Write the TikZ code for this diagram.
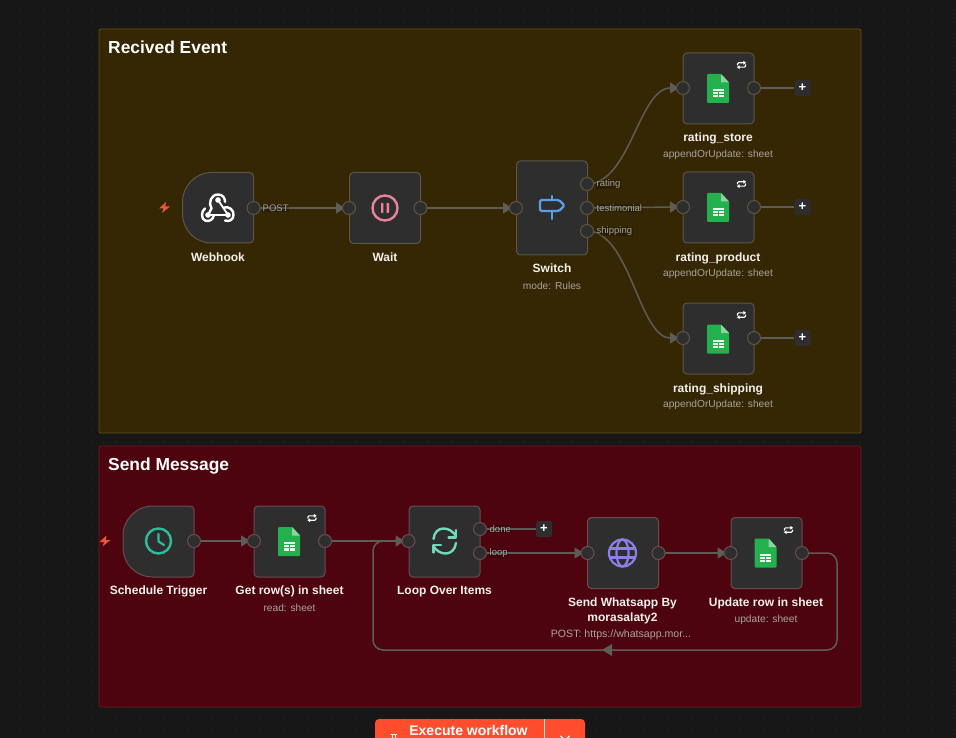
\documentclass[tikz,border=0pt]{standalone}
\usepackage{fontspec}
\setmainfont{Liberation Sans}
\usetikzlibrary{arrows.meta}
\definecolor{bgc}{HTML}{171717}
\definecolor{dotc}{HTML}{363636}
\definecolor{brownf}{HTML}{352704}
\definecolor{brownb}{HTML}{66530F}
\definecolor{redf}{HTML}{4D040E}
\definecolor{redb}{HTML}{701822}
\definecolor{boxf}{HTML}{2E2E2E}
\definecolor{boxb1}{HTML}{5C5645}
\definecolor{boxb2}{HTML}{6A4C52}
\definecolor{wirec}{HTML}{5E5C57}
\definecolor{subc}{HTML}{A8A49C}
\definecolor{namec}{HTML}{F4F1EC}
\definecolor{sheetg}{HTML}{23B14D}
\definecolor{sheetl}{HTML}{8BD3A0}
\definecolor{boltc}{HTML}{E8583C}
\definecolor{pinkc}{HTML}{E8829F}
\definecolor{bluec}{HTML}{5A9FE8}
\definecolor{tealc}{HTML}{2EBD9A}
\definecolor{mintc}{HTML}{72D8BC}
\definecolor{purplec}{HTML}{8B7FE8}
\definecolor{orangec}{HTML}{FF4D2E}
\tikzset{
  x=1pt, y=-1pt,
  frameb/.style={draw=brownb, fill=brownf, line width=.8pt, rounded corners=2pt},
  framer/.style={draw=redb, fill=redf, line width=.8pt, rounded corners=2pt},
  wfbox/.style={rectangle, draw=boxb1, fill=boxf, line width=1pt, rounded corners=4pt, minimum width=71pt, minimum height=71pt, inner sep=0pt},
  wfboxr/.style={wfbox, draw=boxb2},
  trigbox/.style={draw=boxb1, fill=boxf, line width=1pt},
  ghost/.style={rectangle, minimum width=71pt, minimum height=71pt, inner sep=0pt},
  port/.style={circle, draw=boxb1, fill=boxf, line width=1pt, minimum size=13pt, inner sep=0pt},
  portr/.style={port, draw=boxb2},
  wwire/.style={draw=wirec, line width=1.5pt},
  arrowwire/.style={wwire, shorten >=-2pt, -{Triangle[length=9pt,width=11pt,fill=wirec]}},
  wftitle/.style={text=white, font=\bfseries\fontsize{17.4}{20}\selectfont, anchor=base west, inner sep=0pt},
  wfname/.style={text=namec, font=\bfseries\fontsize{12}{15.5}\selectfont, align=center, inner sep=0pt},
  wfsub/.style={text=subc, font=\fontsize{10.2}{12}\selectfont, inner sep=0pt},
  edgelab/.style={text=subc, font=\fontsize{9.5}{11}\selectfont, anchor=west, inner sep=.5pt, fill=black, fill opacity=.22, text opacity=1},
  plusbox/.style={rectangle, rounded corners=2pt, fill=boxf, text=white, minimum size=16pt, inner sep=0pt, font=\bfseries\fontsize{13}{13}\selectfont},
  sheeticon/.pic={
    \fill[sheetg, rounded corners=1pt] (-11,-14.5) -- (3,-14.5) -- (11,-6) -- (11,14.5) -- (-11,14.5) -- cycle;
    \fill[sheetl] (3,-14.5) -- (11,-6) -- (3,-6) -- cycle;
    \fill[white!92!sheetg] (-5.5,0.5) rectangle (5.5,9);
    \draw[sheetg, line width=.55pt] (-5.5,3.2) -- (5.5,3.2) (-5.5,6) -- (5.5,6) (0,3.2) -- (0,9);
  },
  retweeticon/.pic={
    \draw[white, line width=1.1pt, rounded corners=1pt] (-4,0.5) -- (-4,-2.2) -- (2.5,-2.2);
    \draw[white, line width=1.1pt, rounded corners=1pt] (4,-0.5) -- (4,2.2) -- (-2.5,2.2);
    \fill[white] (1.8,-4.2) -- (4.6,-2.2) -- (1.8,-0.2) -- cycle;
    \fill[white] (-1.8,4.2) -- (-4.6,2.2) -- (-1.8,0.2) -- cycle;
  },
  bolticon/.pic={
    \fill[boltc] (1.5,-5.5) -- (-5.5,1) -- (-1,1) -- (-2.5,5.5) -- (5.5,-1) -- (0.8,-1) -- cycle;
  }
}
\begin{document}
\begin{tikzpicture}
\useasboundingbox (0,0) rectangle (956,738);
\clip (0,0) rectangle (956,738);
\fill[bgc] (0,0) rectangle (956,738);
\foreach \i in {0,...,79}{
  \fill[dotc] (8+12*\i,0) ++(0,-2) \foreach \j in {0,...,61}{ ++(0,12) circle[radius=.7pt] };
}
% frames
\path[frameb] (99,29) rectangle (861,433);
\path[framer] (99,446) rectangle (861,707);
\node[wftitle] (t1) at (108,54) {Recived Event};
\node[wftitle] (t2) at (108,470) {Send Message};

% trigger boxes
\path[trigbox] (212,172.5) -- (249.5,172.5) .. controls (252,172.5) and (253.5,174) .. (253.5,176.5) -- (253.5,239) .. controls (253.5,241.5) and (252,243) .. (249.5,243) -- (212,243) .. controls (195,243) and (182.5,230) .. (182.5,213) -- (182.5,202.5) .. controls (182.5,186) and (195,172.5) .. (212,172.5) -- cycle;
\node[ghost] (webhook) at (218,208) {};
\path[trigbox, draw=boxb2] (153,506) -- (190,506) .. controls (192.5,506) and (194,507.5) .. (194,510) -- (194,573) .. controls (194,575.5) and (192.5,577) .. (190,577) -- (153,577) .. controls (136,577) and (123,564) .. (123,547) -- (123,536) .. controls (123,519.5) and (136,506) .. (153,506) -- cycle;
\node[ghost] (schedule) at (158.5,541.5) {};

% boxes
\node[wfbox] (wait) at (385,208) {};
\node[wfbox, minimum height=94pt] (switch) at (552,208) {};
\node[wfbox] (store) at (718.5,88.5) {};
\node[wfbox] (product) at (718.5,207.5) {};
\node[wfbox] (shipping) at (718.5,338.5) {};
\node[wfboxr] (getrows) at (289.5,541.5) {};
\node[wfboxr] (loop) at (444.5,541.5) {};
\node[wfboxr] (whatsapp) at (623,553) {};
\node[wfboxr] (update) at (766.5,553) {};

% named anchors for ports (drawn after the connectors)
\coordinate (pwc) at (253.5,208);
\coordinate (wic) at (349,208);
\coordinate (woc) at (420.5,208);
\coordinate (sic) at (516,208);
\coordinate (s1c) at (587,184);
\coordinate (s2c) at (587,208);
\coordinate (s3c) at (587,231);
\coordinate (aic) at (683,88);
\coordinate (aoc) at (754,88);
\coordinate (bic) at (683,207);
\coordinate (boc) at (754,207);
\coordinate (cic) at (683,338);
\coordinate (coc) at (754,338);
\coordinate (troc) at (194,541);
\coordinate (gic) at (254,541);
\coordinate (goc) at (325,541);
\coordinate (lic) at (408.5,541);
\coordinate (ldc) at (480,529);
\coordinate (llc) at (480,553);
\coordinate (waic) at (587.5,553);
\coordinate (waoc) at (658.5,553);
\coordinate (uic) at (730.5,553);
\coordinate (uoc) at (802,553);

% plus
\node[plusbox] (p1) at (802.5,88) {+};
\node[plusbox] (p2) at (802.5,207) {+};
\node[plusbox] (p3) at (802.5,338) {+};
\node[plusbox] (p4) at (544,529) {+};

% connectors
\draw[arrowwire] (pwc) -- ([xshift=-6pt]wic);
\draw[arrowwire] (woc) -- ([xshift=-6pt]sic);
\draw[arrowwire] (s1c) .. controls +(43,0) and +(-38,0) .. ([xshift=-6pt]aic);
\draw[arrowwire] (s2c) -- ([xshift=-6pt]bic);
\draw[arrowwire] (s3c) .. controls +(43,0) and +(-38,0) .. ([xshift=-6pt]cic);
\draw[wwire] (aoc) -- (p1);
\draw[wwire] (boc) -- (p2);
\draw[wwire] (coc) -- (p3);
\draw[arrowwire] (troc) -- ([xshift=-6pt]gic);
\draw[arrowwire] (goc) -- ([xshift=-6pt]lic);
\draw[wwire] (ldc) -- (p4);
\draw[arrowwire] (llc) -- ([xshift=-6pt]waic);
\draw[arrowwire] (waoc) -- ([xshift=-6pt]uic);
\draw[wwire, rounded corners=10pt] (uoc) -- (837,553) -- (837,650) -- (373,650) -- (373,541) -- ([xshift=-6pt]lic);
\fill[wirec] (602,650) -- (612,644) -- (612,656) -- cycle;

% ports
\node[port] (pw) at (pwc) {};
\node[port] (wi) at (wic) {};
\node[port] (wo) at (woc) {};
\node[port] (si) at (sic) {};
\node[port] (s1) at (s1c) {};
\node[port] (s2) at (s2c) {};
\node[port] (s3) at (s3c) {};
\node[port] (ai) at (aic) {};
\node[port] (ao) at (aoc) {};
\node[port] (bi) at (bic) {};
\node[port] (bo) at (boc) {};
\node[port] (ci) at (cic) {};
\node[port] (co) at (coc) {};
\node[portr] (tro) at (troc) {};
\node[portr] (gi) at (gic) {};
\node[portr] (go) at (goc) {};
\node[portr] (li) at (lic) {};
\node[portr] (ld) at (ldc) {};
\node[portr] (ll) at (llc) {};
\node[portr] (wai) at (waic) {};
\node[portr] (wao) at (waoc) {};
\node[portr] (ui) at (uic) {};
\node[portr] (uo) at (uoc) {};

% edge labels
\node[edgelab] (lpost) at (262,208) {POST};
\node[edgelab] (lrat) at (596,184.5) {rating};
\node[edgelab] (ltes) at (596,208) {testimonial};
\node[edgelab] (lshi) at (596,231.5) {shipping};
\node[edgelab] (ldon) at (489,529) {done};
\node[edgelab] (lloo) at (489,553.5) {loop};

% labels
\node[wfname] (n1) at (218,257) {Webhook};
\node[wfname] (n2) at (385,257) {Wait};
\node[wfname] (n3) at (552,268) {Switch};
\node[wfsub] (n3s) at (552,285.5) {mode: Rules};
\node[wfname] (n4) at (718,138) {rating\_store};
\node[wfsub] (n4s) at (718,155) {appendOrUpdate: sheet};
\node[wfname] (n5) at (718,258) {rating\_product};
\node[wfsub] (n5s) at (718,273.5) {appendOrUpdate: sheet};
\node[wfname] (n6) at (718,389) {rating\_shipping};
\node[wfsub] (n6s) at (718,405) {appendOrUpdate: sheet};
\node[wfname] (n7) at (158.5,591) {Schedule Trigger};
\node[wfname] (n8) at (289.5,591) {Get row(s) in sheet};
\node[wfsub] (n8s) at (289.5,608) {read: sheet};
\node[wfname] (n9) at (444.5,591.5) {Loop Over Items};
\node[wfname] (n10) at (622.5,611) {Send Whatsapp By\\morasalaty2};
\node[wfsub, font=\fontsize{10.6}{12}\selectfont] (n10s) at (621,634.5) {POST: https://whatsapp.mor...};
\node[wfname] (n11) at (766,603) {Update row in sheet};
\node[wfsub] (n11s) at (766,620) {update: sheet};

% icons
\pic at (164.5,207.5) {bolticon};
\pic at (105,541) {bolticon};
\pic at (718,88.5) {sheeticon};
\pic at (718,207.5) {sheeticon};
\pic at (718,339) {sheeticon};
\pic at (289,541.5) {sheeticon};
\pic at (765.5,553) {sheeticon};
\pic at (741.5,65) {retweeticon};
\pic at (741.5,184) {retweeticon};
\pic at (741.5,315) {retweeticon};
\pic at (312,518) {retweeticon};
\pic at (788.5,530) {retweeticon};
% webhook icon
\begin{scope}[draw=white, line width=2.4pt, line cap=round, line join=round]
  \fill[white] (218,200) circle[radius=2.8pt] (208,215) circle[radius=2.8pt] (228,215) circle[radius=2.8pt];
  \draw[line width=1.8pt] (218,200) -- (228,215);
  \draw[line width=1.8pt] (208,215) -- (228,215);
  \draw (208,215) -- (211.5,208.5) .. controls (208,203) and (211,194.5) .. (218,194.5) .. controls (223,194.5) and (225,198) .. (225,202);
  \draw (224,207.5) .. controls (229,206) and (234,210) .. (233.5,215) .. controls (233.5,220) and (229,222) .. (225,220.5);
  \draw (205,208.5) .. controls (201,211) and (201,219) .. (205,220.5) .. controls (209,222) and (213,220) .. (214,215);
\end{scope}
% wait icon
\draw[pinkc, line width=2.4pt] (385,208) circle[radius=12.5pt];
\fill[pinkc, rounded corners=.6pt] (381,203) rectangle (383.4,213);
\fill[pinkc, rounded corners=.6pt] (386.6,203) rectangle (389,213);
% switch icon
\draw[bluec, line width=2.2pt, rounded corners=1.5pt, line cap=round] (540,200) -- (559,200) -- (564.5,205.5) -- (559,211) -- (540,211) -- cycle;
\draw[bluec, line width=2.2pt, line cap=round] (552,196) -- (552,200) (552,211) -- (552,219);
% clock icon
\draw[tealc, line width=2.4pt] (158.5,541) circle[radius=12.5pt];
\draw[tealc, line width=2.2pt, line cap=round, line join=round] (158.5,534) -- (158.5,541.5) -- (164,545);
% loop icon
\begin{scope}[draw=mintc, line width=2.4pt, line cap=round, line join=round]
  \draw (433.5,539) .. controls (435,525) and (450,526) .. (456,536);
  \draw (456,530) -- (456,537.5) -- (448.5,537.5);
  \draw (456,543) .. controls (454,557) and (439,556) .. (433.5,546);
  \draw (433.5,552.5) -- (433.5,545) -- (441,545);
\end{scope}
% globe icon
\begin{scope}[draw=purplec, line width=2.2pt]
  \draw (622.5,553) circle[radius=13.5pt];
  \draw (622.5,553) ellipse[x radius=6pt, y radius=13.5pt];
  \draw (610,548.5) -- (635,548.5) (610,557.5) -- (635,557.5);
\end{scope}

% execute button
\fill[orangec, rounded corners=4pt] (375,719) rectangle (585,760);
\draw[white, opacity=.75, line width=.8pt] (544.5,719) -- (544.5,738);
\node[text=white, font=\bfseries\fontsize{14}{16}\selectfont, inner sep=0pt] (exec) at (468.5,730) {Execute workflow};
\draw[white, line width=1pt] (390.5,734) -- (396.5,734) (392,734) -- (392,738) (395,734) -- (395,738);
\draw[white, line width=1.2pt, line cap=round] (560.5,736) -- (565,740) -- (569.5,736);
\end{tikzpicture}
\end{document}
